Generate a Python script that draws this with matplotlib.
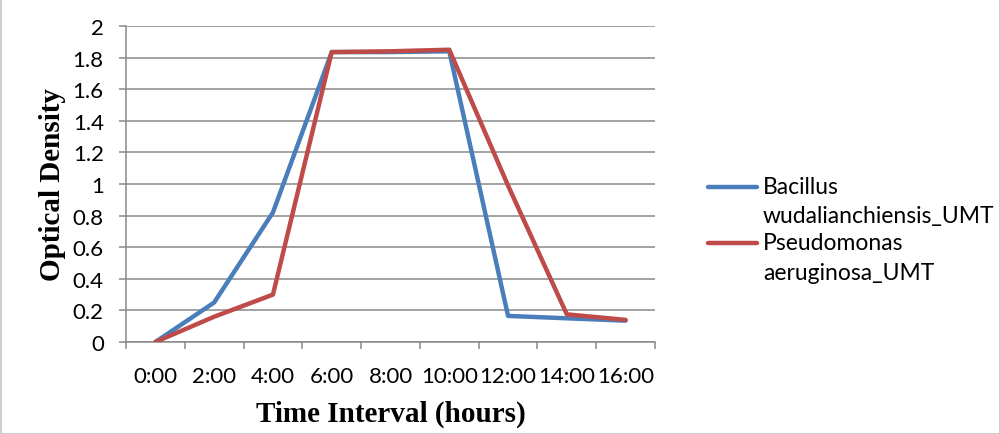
import matplotlib
matplotlib.use("Agg")
import matplotlib.pyplot as plt
from matplotlib.lines import Line2D
from matplotlib.patches import Rectangle
from matplotlib.ticker import FixedLocator, FuncFormatter

# data
times = ["0:00", "2:00", "4:00", "6:00", "8:00", "10:00", "12:00", "14:00", "16:00"]
bacillus = [0.0, 0.25, 0.82, 1.835, 1.835, 1.84, 0.165, 0.15, 0.135]
pseudomonas = [0.0, 0.16, 0.30, 1.835, 1.84, 1.85, 0.99, 0.175, 0.14]
series_names = ["Bacillus\nwudalianchiensis_UMT", "Pseudomonas\naeruginosa_UMT"]
colors = ["#4A7EBB", "#BE4B48"]

tick_font = "Lato"
label_font = ["Liberation Serif", "DejaVu Serif"]
grid_col = "#898989"

fig = plt.figure(figsize=(10, 4.35), dpi=100)
ax = fig.add_axes([0.126, 0.2115, 0.529, 0.7264])

x = list(range(len(times)))
for vals, col in zip([bacillus, pseudomonas], colors):
    ax.plot(x, vals, color=col, lw=3.2, solid_capstyle="round",
            solid_joinstyle="round", zorder=3)

ax.set_xlim(-0.5, len(times) - 0.5)
ax.set_ylim(0, 2)
ax.set_yticks([i * 0.2 for i in range(11)])
ax.yaxis.set_major_formatter(FuncFormatter(lambda v, p: f"{v:g}"))
ax.set_xticks(x)
ax.set_xticklabels(times)
ax.xaxis.set_minor_locator(FixedLocator([i - 0.5 for i in range(len(times) + 1)]))

ax.grid(axis="y", color=grid_col, lw=1.1, zorder=0)
ax.set_axisbelow(True)
for s in ["top", "right"]:
    ax.spines[s].set_visible(False)
for s in ["left", "bottom"]:
    ax.spines[s].set_color(grid_col)
    ax.spines[s].set_linewidth(1.1)

ax.tick_params(axis="x", which="major", length=0, pad=17, labelsize=16)
ax.tick_params(axis="x", which="minor", length=5, width=1.1, color=grid_col)
ax.tick_params(axis="y", length=5, width=1.1, color=grid_col, pad=11, labelsize=16)
for lab in ax.get_xticklabels() + ax.get_yticklabels():
    lab.set_fontfamily(tick_font)
    lab.set_color("black")

ax.set_xlabel("Time Interval (hours)", fontsize=21, fontweight="bold",
              family=label_font, labelpad=10)
ax.set_ylabel("Optical Density", fontsize=21, fontweight="bold",
              family=label_font, labelpad=5)

# legend drawn by hand so the line sits beside the first text row
W, H = 1000.0, 435.0
for i, (name, col) in enumerate(zip(series_names, colors)):
    yc = 188 + i * 56
    fig.add_artist(Line2D([708 / W, 757 / W], [1 - yc / H, 1 - yc / H],
                          transform=fig.transFigure, color=col, lw=3.2,
                          solid_capstyle="round"))
    for j, part in enumerate(name.split("\n")):
        fig.text(763 / W, 1 - (yc + j * 29) / H, part, family=tick_font,
                 fontsize=16.5, va="center", ha="left")

fig.add_artist(Rectangle((0.0005, 0.001), 0.999, 0.998, transform=fig.transFigure,
                         fill=False, edgecolor="#c4c4c4", lw=1.2))

fig.savefig("out.png", dpi=100)
